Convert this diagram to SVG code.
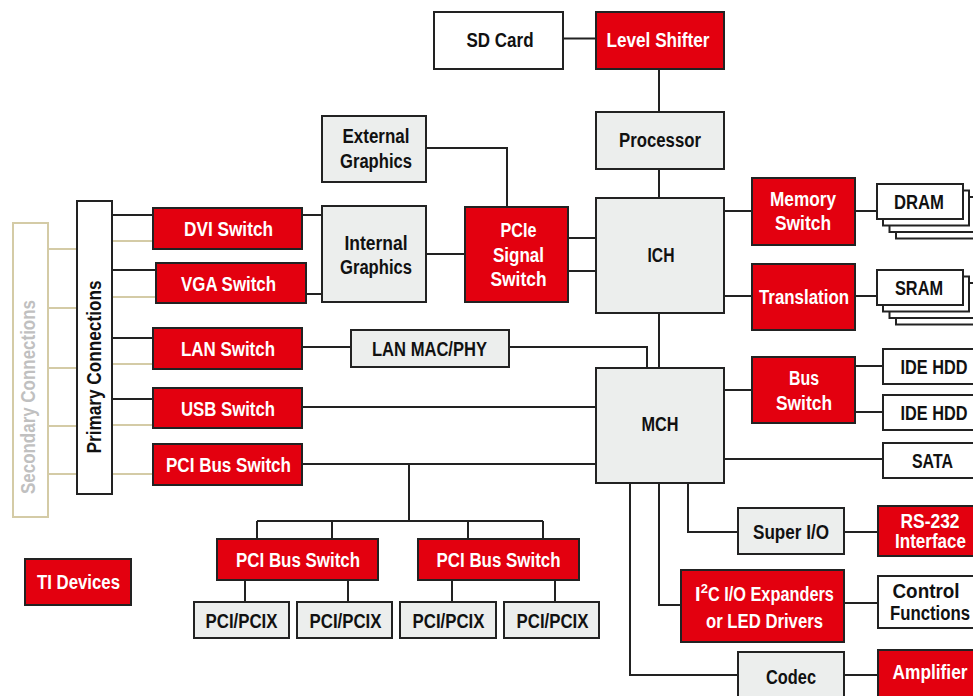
<svg xmlns="http://www.w3.org/2000/svg" width="973" height="696" viewBox="0 0 973 696">
<style>
text{font-family:"Liberation Sans",Arial,sans-serif;font-weight:bold;font-size:20px;text-anchor:middle}
.r rect{fill:#e3000f;stroke:#222;stroke-width:2}
.r text{fill:#fff}
.g rect{fill:#eceeed;stroke:#222;stroke-width:2}
.g text,.w text{fill:#111}
.w rect{fill:#fff;stroke:#222;stroke-width:2}
.c path{fill:none;stroke:#222;stroke-width:2}
.t path{fill:none;stroke:#d4cba6;stroke-width:2}
</style>
<rect width="973" height="696" fill="#fff"/>
<g class="t" id="tan-connectors">
<path d="M48,249H77M48,308H77M48,368H77M48,426H77M48,474H77"/>
<path d="M112,241H153M112,297H156M112,364H153M112,425H153M112,474H153"/>
</g>
<g class="c" id="connectors">
<path d="M563,38.5H596"/>
<path d="M659,69V112"/>
<path d="M659,169V198"/>
<path d="M426,148H507V207"/>
<path d="M426,254H465"/>
<path d="M568,238H596M568,271H596"/>
<path d="M724,211H752M855,211H877"/>
<path d="M724,296H752M855,296H877"/>
<path d="M659,313V368"/>
<path d="M302,215H322M306,294H322"/>
<path d="M302,347H351M509,347H647V368"/>
<path d="M302,407H596M302,464H596"/>
<path d="M409,464V521M257,521H543M257,521V539M332,521V539M468,521V539M543,521V539"/>
<path d="M245,580V602M348,580V602M452,580V602M555,580V602"/>
<path d="M724,390H752M855,366H883M855,412H883M724,459H883"/>
<path d="M688,483V532H738M659,483V605H681M630,483V675H738"/>
<path d="M844,532H878M844,603H878M844,675H878"/>
<path d="M112,215H153M112,270H156M112,338H153M112,399H153"/>
</g>
<g id="secondary-connections">
<rect x="13" y="223" width="35" height="294" fill="#fff" stroke="#d4cba6" stroke-width="2"/>
<text transform="translate(35,397) rotate(-90)" fill="#c0c0c0" textLength="194" lengthAdjust="spacingAndGlyphs">Secondary Connections</text>
</g>
<g id="primary-connections" class="w">
<rect x="77" y="201" width="35" height="293"/>
<text transform="translate(100.5,367) rotate(-90)" textLength="173" lengthAdjust="spacingAndGlyphs">Primary Connections</text>
</g>
<g id="sd-card" class="w"><rect x="434" y="12" width="129" height="57"/><text x="500" y="47" textLength="67" lengthAdjust="spacingAndGlyphs">SD Card</text></g>
<g id="level-shifter" class="r"><rect x="596" y="12" width="128" height="57"/><text x="658" y="47" textLength="103" lengthAdjust="spacingAndGlyphs">Level Shifter</text></g>
<g id="processor" class="g"><rect x="596" y="112" width="128" height="57"/><text x="660" y="147" textLength="82" lengthAdjust="spacingAndGlyphs">Processor</text></g>
<g id="external-graphics" class="g"><rect x="322" y="116" width="104" height="66"/><text x="376" y="143" textLength="67" lengthAdjust="spacingAndGlyphs">External</text><text x="376" y="168" textLength="72" lengthAdjust="spacingAndGlyphs">Graphics</text></g>
<g id="internal-graphics" class="g"><rect x="322" y="206" width="104" height="96"/><text x="376" y="250" textLength="63" lengthAdjust="spacingAndGlyphs">Internal</text><text x="376" y="274" textLength="72" lengthAdjust="spacingAndGlyphs">Graphics</text></g>
<g id="pcie-switch" class="r"><rect x="465" y="207" width="103" height="95"/><text x="518.5" y="237" textLength="36" lengthAdjust="spacingAndGlyphs">PCIe</text><text x="518.5" y="262" textLength="51" lengthAdjust="spacingAndGlyphs">Signal</text><text x="518.5" y="285.5" textLength="56" lengthAdjust="spacingAndGlyphs">Switch</text></g>
<g id="ich" class="g"><rect x="596" y="198" width="128" height="115"/><text x="661" y="262" textLength="27" lengthAdjust="spacingAndGlyphs">ICH</text></g>
<g id="memory-switch" class="r"><rect x="752" y="178" width="103" height="67"/><text x="803" y="206" textLength="66" lengthAdjust="spacingAndGlyphs">Memory</text><text x="803" y="229.5" textLength="56" lengthAdjust="spacingAndGlyphs">Switch</text></g>
<g id="translation" class="r"><rect x="752" y="264" width="103" height="66"/><text x="804" y="304" textLength="90" lengthAdjust="spacingAndGlyphs">Translation</text></g>
<g id="dram" class="w"><rect x="896" y="203.5" width="86" height="35"/><rect x="889.5" y="197" width="86" height="35"/><rect x="883" y="190.5" width="86" height="35"/><rect x="877" y="184" width="86" height="35"/><text x="919" y="208.5" textLength="50" lengthAdjust="spacingAndGlyphs">DRAM</text></g>
<g id="sram" class="w"><rect x="896" y="289.5" width="86" height="35"/><rect x="889.5" y="283" width="86" height="35"/><rect x="883" y="276.5" width="86" height="35"/><rect x="877" y="270" width="86" height="35"/><text x="919" y="295" textLength="48" lengthAdjust="spacingAndGlyphs">SRAM</text></g>
<g id="mch" class="g"><rect x="596" y="368" width="128" height="115"/><text x="660" y="431" textLength="37" lengthAdjust="spacingAndGlyphs">MCH</text></g>
<g id="bus-switch" class="r"><rect x="752" y="357" width="103" height="66"/><text x="804" y="385" textLength="30" lengthAdjust="spacingAndGlyphs">Bus</text><text x="804" y="409.5" textLength="56" lengthAdjust="spacingAndGlyphs">Switch</text></g>
<g id="ide-hdd-1" class="w"><rect x="883" y="349" width="100" height="35"/><text x="934" y="374" textLength="67" lengthAdjust="spacingAndGlyphs">IDE HDD</text></g>
<g id="ide-hdd-2" class="w"><rect x="883" y="395" width="100" height="35"/><text x="934" y="419.5" textLength="67" lengthAdjust="spacingAndGlyphs">IDE HDD</text></g>
<g id="sata" class="w"><rect x="883" y="443" width="100" height="35"/><text x="932.5" y="467.5" textLength="41" lengthAdjust="spacingAndGlyphs">SATA</text></g>
<g id="super-io" class="g"><rect x="738" y="508" width="106" height="46"/><text x="791" y="539" textLength="76" lengthAdjust="spacingAndGlyphs">Super I/O</text></g>
<g id="rs232" class="r"><rect x="878" y="506" width="110" height="50"/><text x="930" y="527.5" textLength="59" lengthAdjust="spacingAndGlyphs">RS-232</text><text x="930.5" y="548" textLength="71" lengthAdjust="spacingAndGlyphs">Interface</text></g>
<g id="i2c" class="r"><rect x="681" y="570" width="163" height="72"/><text x="764.5" y="601">I<tspan font-size="13" dy="-8">2</tspan><tspan dy="8" textLength="126" lengthAdjust="spacingAndGlyphs">C I/O Expanders</tspan></text><text x="764.5" y="628" textLength="117" lengthAdjust="spacingAndGlyphs">or LED Drivers</text></g>
<g id="control-functions" class="w"><rect x="878" y="576" width="110" height="52"/><text x="926" y="597.5" textLength="67" lengthAdjust="spacingAndGlyphs">Control</text><text x="930" y="619.5" textLength="80" lengthAdjust="spacingAndGlyphs">Functions</text></g>
<g id="codec" class="g"><rect x="738" y="652" width="106" height="60"/><text x="791" y="684" textLength="50" lengthAdjust="spacingAndGlyphs">Codec</text></g>
<g id="amplifier" class="r"><rect x="878" y="650" width="110" height="60"/><text x="930" y="679" textLength="75" lengthAdjust="spacingAndGlyphs">Amplifier</text></g>
<g id="ti-devices" class="r"><rect x="25" y="559" width="106" height="46"/><text x="78.5" y="589" textLength="83" lengthAdjust="spacingAndGlyphs">TI Devices</text></g>
<g id="dvi-switch" class="r"><rect x="153" y="208" width="149" height="41"/><text x="228.5" y="236" textLength="89" lengthAdjust="spacingAndGlyphs">DVI Switch</text></g>
<g id="vga-switch" class="r"><rect x="156" y="263" width="150" height="40"/><text x="228.5" y="290.5" textLength="95" lengthAdjust="spacingAndGlyphs">VGA Switch</text></g>
<g id="lan-switch" class="r"><rect x="153" y="328" width="149" height="41"/><text x="228" y="355.5" textLength="94" lengthAdjust="spacingAndGlyphs">LAN Switch</text></g>
<g id="usb-switch" class="r"><rect x="153" y="388" width="149" height="40"/><text x="228" y="415.5" textLength="94" lengthAdjust="spacingAndGlyphs">USB Switch</text></g>
<g id="pci-bus-switch-1" class="r"><rect x="153" y="444" width="149" height="41"/><text x="228.5" y="471.5" textLength="125" lengthAdjust="spacingAndGlyphs">PCI Bus Switch</text></g>
<g id="lan-mac-phy" class="g"><rect x="351" y="330" width="158" height="37"/><text x="429.5" y="355.5" textLength="115" lengthAdjust="spacingAndGlyphs">LAN MAC/PHY</text></g>
<g id="pci-bus-switch-2" class="r"><rect x="217" y="539" width="161" height="41"/><text x="298" y="566.5" textLength="124" lengthAdjust="spacingAndGlyphs">PCI Bus Switch</text></g>
<g id="pci-bus-switch-3" class="r"><rect x="418" y="539" width="161" height="41"/><text x="498.5" y="566.5" textLength="124" lengthAdjust="spacingAndGlyphs">PCI Bus Switch</text></g>
<g id="pcix-1" class="g"><rect x="194" y="602" width="95" height="36"/><text x="241.5" y="627.5" textLength="72" lengthAdjust="spacingAndGlyphs">PCI/PCIX</text></g>
<g id="pcix-2" class="g"><rect x="297" y="602" width="95" height="36"/><text x="345.5" y="627.5" textLength="72" lengthAdjust="spacingAndGlyphs">PCI/PCIX</text></g>
<g id="pcix-3" class="g"><rect x="400" y="602" width="96" height="36"/><text x="448.5" y="627.5" textLength="72" lengthAdjust="spacingAndGlyphs">PCI/PCIX</text></g>
<g id="pcix-4" class="g"><rect x="504" y="602" width="95" height="36"/><text x="552.5" y="627.5" textLength="72" lengthAdjust="spacingAndGlyphs">PCI/PCIX</text></g>
</svg>
